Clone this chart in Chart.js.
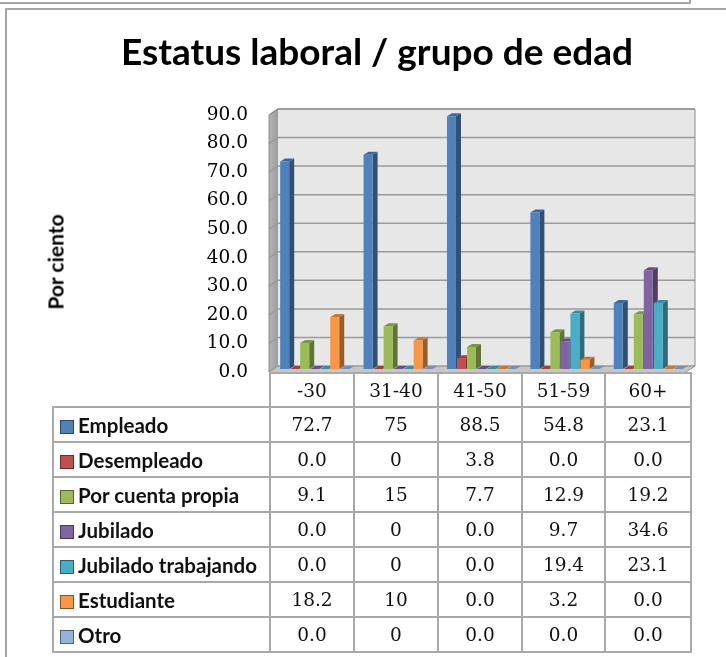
<!DOCTYPE html>
<html>
<head>
<meta charset="utf-8">
<title>Estatus laboral / grupo de edad</title>
<script src="https://cdn.jsdelivr.net/npm/chart.js@4.4.1/dist/chart.umd.min.js"></script>
<style>
  body { margin: 0; width: 726px; height: 657px; overflow: hidden; position: relative; background: #fff; font-family: Lato, sans-serif; }
  #topbox { position: absolute; left: -4px; top: -10px; width: 691px; height: 10px; border: 2px solid #a6a6a6; }
  #frame { position: absolute; left: 5px; top: 8px; width: 760px; height: 700px; border: 2px solid #a6a6a6; border-right: none; border-bottom: none; }
  #chart { position: absolute; left: 0; top: 0; }
  #title { position: absolute; left: 77px; width: 600px; top: 28px; text-align: center; font-weight: 700; font-size: 37px; color: #000; }
  #ytitle { position: absolute; left: 55px; top: 262px; transform: translate(-50%, -50%) rotate(-90deg); font-weight: 700; font-size: 21px; white-space: nowrap; }
  #datatable { position: absolute; left: 52px; top: 372px; border-collapse: collapse; table-layout: fixed; }
  #datatable td { border: 2px solid #a9a9a9; padding: 0; height: 33px; text-align: center; font-family: "DejaVu Serif", serif; font-size: 18.5px; color: #111; }
  #datatable tr.head td { height: 32px; }
  #datatable td.empty { border: none; }
  #datatable td.name { text-align: left; font-family: Lato, sans-serif; font-weight: 700; font-size: 20.5px; padding-left: 6px; white-space: nowrap; }
  .key { display: inline-block; width: 12px; height: 12px; border: 1px solid rgba(0,0,0,0.45); margin-right: 4px; vertical-align: -1px; }
</style>
</head>
<body>
<div id="topbox"></div>
<div id="frame"></div>
<canvas id="chart" width="726" height="657"></canvas>
<div id="title">Estatus laboral / grupo de edad</div>
<div id="ytitle">Por ciento</div>
<table id="datatable"></table>
<script>
// Data
const categories = ['-30', '31-40', '41-50', '51-59', '60+'];
const seriesNames = ['Empleado', 'Desempleado', 'Por cuenta propia', 'Jubilado', 'Jubilado trabajando', 'Estudiante', 'Otro'];
const empleado = [72.7, 75, 88.5, 54.8, 23.1];
const desempleado = [0, 0, 3.8, 0, 0];
const cuentaPropia = [9.1, 15, 7.7, 12.9, 19.2];
const jubilado = [0, 0, 0, 9.7, 34.6];
const jubiladoTrabajando = [0, 0, 0, 19.4, 23.1];
const estudiante = [18.2, 10, 0, 3.2, 0];
const otro = [0, 0, 0, 0, 0];
// decimals shown in the data table for each column
const columnDecimals = [1, 0, 1, 1, 1];
const yTicks = [0, 10, 20, 30, 40, 50, 60, 70, 80, 90];

const seriesValues = [empleado, desempleado, cuentaPropia, jubilado, jubiladoTrabajando, estudiante, otro];
const colors = ['#4F81BD', '#C0504D', '#9BBB59', '#8064A2', '#4BACC6', '#F79646', '#95B3D7'];

// 3D offsets: back plane and front plane relative to the chart area
const BX = 5, BY = 3, FX = 4, FY = 3;
const DEPTH_X = 5, DEPTH_Y = 3;

function shade(hex, f) {
    const n = parseInt(hex.slice(1), 16);
    const r = Math.round(((n >> 16) & 255) * f);
    const g = Math.round(((n >> 8) & 255) * f);
    const b = Math.round((n & 255) * f);
    return `rgb(${r},${g},${b})`;
}

function poly(ctx, pts, fill) {
    ctx.beginPath();
    ctx.moveTo(pts[0][0], pts[0][1]);
    pts.slice(1).forEach(p => ctx.lineTo(p[0], p[1]));
    ctx.closePath();
    ctx.fillStyle = fill;
    ctx.fill();
}

const threeD = {
    id: 'threeD',
    beforeDraw(chart) {
        const { ctx, chartArea: a, scales: { y } } = chart;
        ctx.save();
        // back wall
        ctx.fillStyle = '#e7e7e7';
        ctx.fillRect(a.left + BX, a.top - BY, a.width, a.height);
        // side wall
        const side = ctx.createLinearGradient(a.left - FX, 0, a.left + BX, 0);
        side.addColorStop(0, '#b4b4b4');
        side.addColorStop(1, '#9c9c9c');
        poly(ctx, [[a.left - FX, a.top + FY], [a.left + BX, a.top - BY], [a.left + BX, a.bottom - BY], [a.left - FX, a.bottom + FY]], side);
        // floor
        poly(ctx, [[a.left - FX, a.bottom + FY], [a.left + BX, a.bottom - BY], [a.right + BX, a.bottom - BY], [a.right - FX, a.bottom + FY]], '#c6c6c6');
        // grid lines on back and side wall
        ctx.strokeStyle = '#9a9a9a';
        ctx.lineWidth = 1.5;
        yTicks.forEach(v => {
            const py = y.getPixelForValue(v);
            ctx.beginPath();
            ctx.moveTo(a.left - FX, py + FY);
            ctx.lineTo(a.left + BX, py - BY);
            ctx.lineTo(a.right + BX, py - BY);
            ctx.stroke();
        });
        // wall edges
        ctx.strokeStyle = '#8c8c8c';
        ctx.lineWidth = 1;
        ctx.beginPath();
        ctx.moveTo(a.left - FX, a.bottom + FY);
        ctx.lineTo(a.left - FX, a.top + FY);
        ctx.lineTo(a.left + BX, a.top - BY);
        ctx.lineTo(a.right + BX, a.top - BY);
        ctx.lineTo(a.right + BX, a.bottom - BY);
        ctx.lineTo(a.right - FX, a.bottom + FY);
        ctx.stroke();
        ctx.restore();
    },
    beforeDatasetsDraw(chart) {
        const ctx = chart.ctx;
        ctx.save();
        for (let c = 0; c < categories.length; c++) {
            chart.data.datasets.forEach((ds, i) => {
                const el = chart.getDatasetMeta(i).data[c];
                const l = el.x - el.width / 2;
                const r = el.x + el.width / 2;
                const top = Math.min(el.y, el.base);
                const base = el.base;
                poly(ctx, [[r, top], [r + DEPTH_X, top - DEPTH_Y], [r + DEPTH_X, base - DEPTH_Y], [r, base]], shade(colors[i], 0.62));
                poly(ctx, [[l, top], [l + DEPTH_X, top - DEPTH_Y], [r + DEPTH_X, top - DEPTH_Y], [r, top]], shade(colors[i], 0.8));
            });
        }
        ctx.restore();
    }
};

new Chart(document.getElementById('chart'), {
    type: 'bar',
    data: {
        labels: categories,
        datasets: seriesNames.map((name, i) => ({
            label: name,
            data: seriesValues[i],
            backgroundColor: colors[i],
            borderWidth: 0,
            categoryPercentage: 0.84,
            barPercentage: 0.9
        }))
    },
    options: {
        responsive: false,
        animation: false,
        devicePixelRatio: 1,
        layout: { padding: { left: 0, top: 112, right: 36, bottom: 288 } },
        plugins: {
            legend: { display: false },
            tooltip: { enabled: false },
            title: { display: false }
        },
        scales: {
            x: { display: false, offset: true, grid: { display: false } },
            y: {
                min: 0,
                max: 90,
                afterBuildTicks: (s) => { s.ticks = yTicks.map(v => ({ value: v })); },
                afterFit: (s) => { s.width = 273; },
                grid: { display: false },
                border: { display: false },
                ticks: {
                    padding: 17,
                    labelOffset: 3,
                    color: '#000',
                    font: { family: 'DejaVu Serif', size: 18.5 },
                    callback: (v) => Number(v).toFixed(1)
                }
            }
        }
    },
    plugins: [threeD]
});

// Data table under the plot
const table = document.getElementById('datatable');
const colWidths = [217, 84, 84, 84, 83, 86];
const colgroup = document.createElement('colgroup');
colWidths.forEach(w => {
    const col = document.createElement('col');
    col.style.width = w + 'px';
    colgroup.appendChild(col);
});
table.appendChild(colgroup);

const head = document.createElement('tr');
head.className = 'head';
head.innerHTML = '<td class="empty"></td>' + categories.map(c => `<td>${c}</td>`).join('');
table.appendChild(head);

seriesNames.forEach((name, i) => {
    const tr = document.createElement('tr');
    let html = `<td class="name"><span class="key" style="background:${colors[i]}"></span>${name}</td>`;
    seriesValues[i].forEach((v, c) => {
        html += `<td>${v.toFixed(columnDecimals[c])}</td>`;
    });
    tr.innerHTML = html;
    table.appendChild(tr);
});
</script>
</body>
</html>
